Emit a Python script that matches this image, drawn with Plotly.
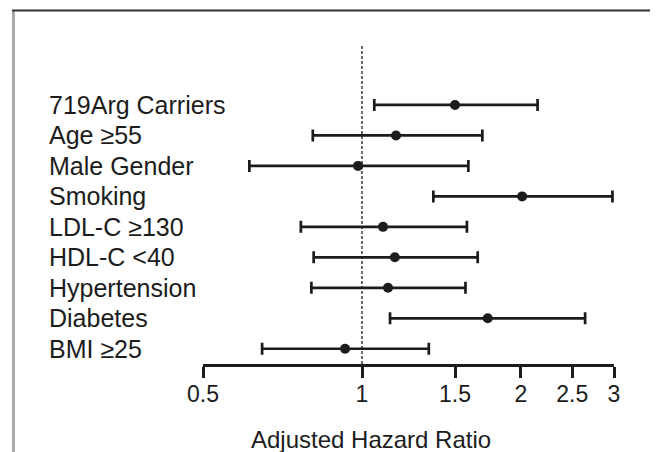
import plotly.graph_objects as go

categories = ["719Arg Carriers", "Age ≥55", "Male Gender", "Smoking", "LDL-C ≥130",
              "HDL-C <40", "Hypertension", "Diabetes", "BMI ≥25"]
hr = [1.50, 1.16, 0.983, 2.01, 1.096, 1.154, 1.12, 1.73, 0.929]
ci_low = [1.055, 0.807, 0.612, 1.365, 0.766, 0.81, 0.802, 1.13, 0.647]
ci_high = [2.15, 1.69, 1.59, 2.98, 1.58, 1.656, 1.57, 2.645, 1.338]
tick_vals = [0.5, 1, 1.5, 2, 2.5, 3]
tick_text = ["0.5", "1", "1.5", "2", "2.5", "3"]
x_title = "Adjusted Hazard Ratio"

INK = "#1c1c1c"
FONT = "Liberation Sans, Arial, Helvetica, sans-serif"

# page body has an 8px margin; lay out in window pixels and offset
OFF = 8
W, H = 658 - OFF, 452 - OFF
PLOT_L, PLOT_R, PLOT_T, PLOT_B = 203, 614, 44, 364   # window pixels
ML, MR = PLOT_L - OFF, W - (PLOT_R - OFF)
MT, MB = PLOT_T - OFF, H - (PLOT_B - OFF)
PW, PH = PLOT_R - PLOT_L, PLOT_B - PLOT_T

def px_to_paper_x(px):
    return (px - PLOT_L) / PW

def px_to_paper_y(py):
    return (PLOT_B - py) / PH

rows = list(range(len(categories)))

fig = go.Figure()
fig.add_trace(go.Scatter(
    x=hr, y=rows, mode="markers",
    marker=dict(color=INK, size=10, symbol="circle"),
    error_x=dict(type="data", symmetric=False,
                 array=[h - p for h, p in zip(ci_high, hr)],
                 arrayminus=[p - l for p, l in zip(hr, ci_low)],
                 color=INK, thickness=2.7, width=6),
    showlegend=False, hoverinfo="skip",
))

annotations = []
for i, c in enumerate(categories):
    annotations.append(dict(
        text=c, x=px_to_paper_x(47), xref="paper", y=i, yref="y",
        xanchor="left", yanchor="middle", showarrow=False,
        font=dict(family=FONT, size=25, color=INK)))
annotations.append(dict(
    text=x_title, x=px_to_paper_x(371), xref="paper", y=px_to_paper_y(439), yref="paper",
    xanchor="center", yanchor="middle", showarrow=False,
    font=dict(family=FONT, size=24, color=INK)))

shapes = [
    # reference line at HR = 1
    dict(type="line", xref="x", yref="paper", x0=1, x1=1, y0=0, y1=1,
         line=dict(color=INK, width=1.3, dash="3px,2px"), layer="below"),
    # outer frame
    dict(type="line", xref="paper", yref="paper",
         x0=px_to_paper_x(13.5), x1=px_to_paper_x(13.5),
         y0=px_to_paper_y(10), y1=px_to_paper_y(470),
         line=dict(color="#a9a9a9", width=3)),
    dict(type="line", xref="paper", yref="paper",
         x0=px_to_paper_x(12), x1=px_to_paper_x(653.5),
         y0=px_to_paper_y(10.5), y1=px_to_paper_y(10.5),
         line=dict(color="#333333", width=2)),
    dict(type="line", xref="paper", yref="paper",
         x0=px_to_paper_x(652.8), x1=px_to_paper_x(652.8),
         y0=px_to_paper_y(10), y1=px_to_paper_y(470),
         line=dict(color="#555555", width=2)),
]

fig.update_layout(
    width=W, height=H,
    margin=dict(l=ML, r=MR, t=MT, b=MB, pad=0),
    paper_bgcolor="white", plot_bgcolor="white",
    annotations=annotations, shapes=shapes,
    xaxis=dict(type="log", range=[-0.30103, 0.4771213],
               tickvals=tick_vals, ticktext=tick_text,
               ticks="outside", ticklen=11, tickwidth=3, tickcolor=INK,
               ticklabelstandoff=-4,
               showline=True, linewidth=3, linecolor=INK,
               showgrid=False, zeroline=False,
               tickfont=dict(family=FONT, size=23, color=INK)),
    yaxis=dict(range=[8.5, -2], showticklabels=False, showgrid=False,
               zeroline=False, showline=False, ticks=""),
)

fig.write_html("out.html")
